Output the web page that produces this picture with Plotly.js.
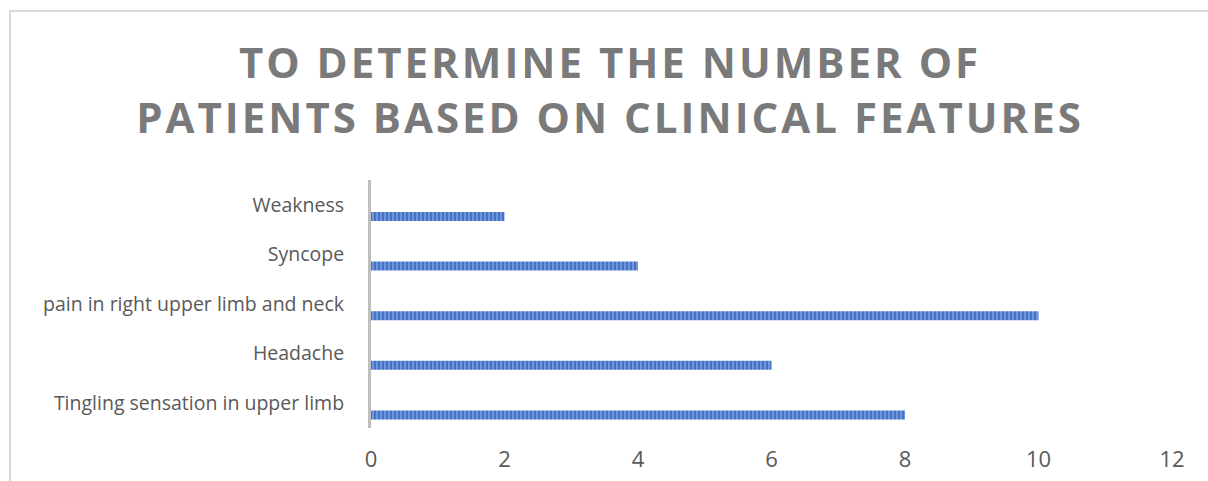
<!DOCTYPE html>
<html>
<head>
<meta charset="utf-8">
<script src="https://cdn.plot.ly/plotly-3.0.1.min.js"></script>
<style>
  html, body { margin: 0; padding: 0; background: #ffffff; overflow: hidden; }
  #wrap { position: relative; width: 1208px; height: 481px; overflow: hidden; }
  #chart { width: 1208px; height: 481px; }
  #frame { position: absolute; left: 9px; top: 10px; width: 1220px; height: 500px;
           border-left: 2px solid #d9d9d9; border-top: 2px solid #d9d9d9; pointer-events: none; }
  .gtitle { letter-spacing: 3px; }
</style>
</head>
<body>
<div id="wrap">
  <div id="chart"></div>
  <div id="frame"></div>
</div>
<script>
const categories = [
  "Tingling sensation in upper limb",
  "Headache",
  "pain in right upper limb and neck",
  "Syncope",
  "Weakness"
];
const patients = [8, 6, 10, 4, 2];
const xTicks = [0, 2, 4, 6, 8, 10, 12];
const chartTitle = "TO DETERMINE THE NUMBER OF<br>PATIENTS BASED ON CLINICAL FEATURES";

const trace = {
  type: "bar",
  orientation: "h",
  y: categories,
  x: patients,
  width: 0.182,
  offset: -0.327,
  marker: {
    color: "#4472c4",
    line: { width: 0 },
    pattern: { shape: "|", bgcolor: "#4472c4", fgcolor: "#7c9ee0", size: 4, solidity: 0.4 }
  },
  hoverinfo: "x+y"
};

const layout = {
  width: 1208,
  height: 481,
  paper_bgcolor: "#ffffff",
  plot_bgcolor: "#ffffff",
  margin: { l: 371, r: 36, t: 180, b: 53, pad: 0 },
  showlegend: false,
  title: {
    text: chartTitle,
    font: { family: "Open Sans, sans-serif", size: 42, color: "#7a7a7a", weight: "bold" },
    x: 0.505, xanchor: "center",
    y: 0.838, yanchor: "middle"
  },
  xaxis: {
    range: [0, 12],
    tickvals: xTicks,
    ticktext: xTicks.map(String),
    showgrid: false,
    zeroline: false,
    showline: false,
    ticks: "",
    ticklabelstandoff: 16,
    tickfont: { family: "Open Sans, sans-serif", size: 22, color: "#595959" },
    fixedrange: true
  },
  yaxis: {
    type: "category",
    categoryorder: "array",
    categoryarray: categories,
    showgrid: false,
    zeroline: false,
    showline: true,
    linecolor: "#bfbfbf",
    linewidth: 3,
    ticks: "",
    ticklabelstandoff: 20,
    tickfont: { family: "Open Sans, sans-serif", size: 19.5, color: "#595959" },
    fixedrange: true
  }
};

Plotly.newPlot("chart", [trace], layout, { displayModeBar: false, staticPlot: true });
</script>
</body>
</html>
